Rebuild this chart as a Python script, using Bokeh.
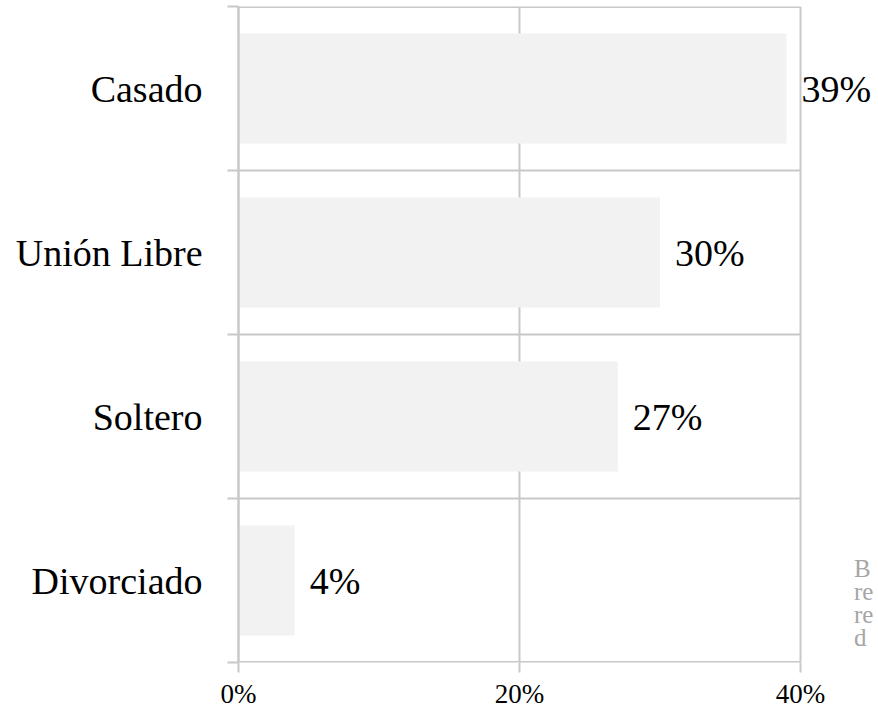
from bokeh.plotting import figure
from bokeh.models import Range1d, FixedTicker, ColumnDataSource, LabelSet, Label
from bokeh.embed import file_html
from bokeh.resources import INLINE

categories = ["Casado", "Unión Libre", "Soltero", "Divorciado"]
values = [39, 30, 27, 4]
value_labels = ["39%", "30%", "27%", "4%"]
x_ticks = [0, 20, 40]
x_tick_labels = ["0%", "20%", "40%"]
note_lines = ["B", "re", "re", "d"]

n = len(categories)
ypos = [n - i - 0.5 for i in range(n)]
src = ColumnDataSource(dict(y=ypos, v=values, lab=value_labels, cat=categories))

FONT = "Liberation Serif"
GRID = "#c8c8c8"

W, H = 878, 711
LEFT, RIGHT_PLOT, TOP, BOTTOM = 238, 800, 6, 49
xmax = x_ticks[-1]
# extend the frame to the canvas edge so that outside labels are not clipped
x_end = xmax * (W - LEFT) / (RIGHT_PLOT - LEFT)

p = figure(width=W, height=H, output_backend="svg", toolbar_location=None,
           x_range=Range1d(0, x_end), y_range=Range1d(0, n),
           min_border_left=LEFT, min_border_right=0, min_border_top=TOP,
           min_border_bottom=BOTTOM)
p.outline_line_color = None

p.hbar(y="y", right="v", left=0, height=0.67, source=src,
       fill_color="#f2f2f2", line_color=None)

# horizontal separators (category boundaries), top border and baseline
bounds = list(range(1, n))
p.segment(x0=[x_ticks[0]] * len(bounds), x1=[xmax] * len(bounds),
          y0=bounds, y1=bounds, line_color=GRID, line_width=2)
p.segment(x0=[x_ticks[0]] * 2, x1=[xmax] * 2, y0=[0, n], y1=[0, n],
          line_color=GRID, line_width=3)

# x axis
xa = p.xaxis[0]
xa.ticker = FixedTicker(ticks=x_ticks)
xa.major_label_overrides = {t: l for t, l in zip(x_ticks, x_tick_labels)}
xa.axis_line_color = None
xa.major_tick_line_color = GRID
xa.major_tick_line_width = 2
xa.major_tick_out = 10
xa.major_tick_in = 0
xa.minor_tick_line_color = None
xa.major_label_text_font = FONT
xa.major_label_text_font_size = "27px"
xa.major_label_text_color = "black"
xa.major_label_standoff = 6

# y axis
ya = p.yaxis[0]
ya.ticker = FixedTicker(ticks=ypos, minor_ticks=list(range(n + 1)))
ya.major_label_overrides = {y: c for y, c in zip(ypos, categories)}
ya.axis_line_color = GRID
ya.axis_line_width = 2.5
ya.major_tick_line_color = None
ya.major_tick_out = 0
ya.major_tick_in = 0
ya.minor_tick_line_color = GRID
ya.minor_tick_line_width = 2
ya.minor_tick_out = 11
ya.minor_tick_in = 0
ya.major_label_text_font = FONT
ya.major_label_text_font_size = "38px"
ya.major_label_text_color = "black"
ya.major_label_standoff = 25

p.xgrid.grid_line_color = GRID
p.xgrid.grid_line_width = 2
p.ygrid.grid_line_color = None

labels = LabelSet(x="v", y="y", text="lab", source=src, x_offset=15,
                  text_baseline="middle", text_align="left",
                  text_font=FONT, text_font_size="38px", text_color="black")
p.add_layout(labels)

for i, t in enumerate(note_lines):
    p.add_layout(Label(x=43.8, y=0.573 - i * 0.140, text=t,
                       text_baseline="middle", text_align="left",
                       text_font=FONT, text_font_size="25px",
                       text_color="#a6a6a6"))

open("out.html", "w").write(file_html(p, INLINE))
